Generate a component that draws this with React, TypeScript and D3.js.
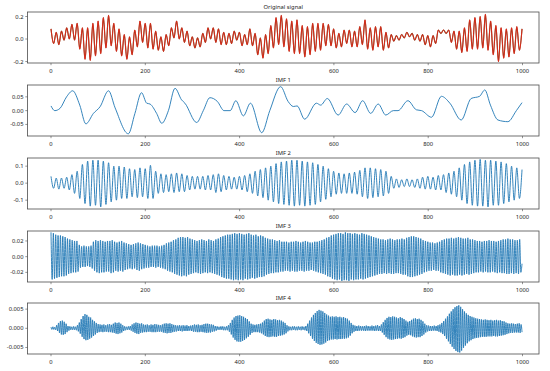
import React, { useEffect } from 'react'
import * as d3 from 'd3'

// x ticks shared by every panel
const xTicks = [0, 200, 400, 600, 800, 1000]
const sampleCount = 1000

// Original signal: alternating extrema (peak first), evenly spaced over 0..999
const originalExtrema = [
  0.09, -0.04, 0.06, -0.05, 0.07, -0.01, 0.1, 0.0, 0.13, -0.01,
  0.14, -0.09, 0.1, -0.18, 0.1, -0.19, 0.14, -0.15, 0.16, -0.13,
  0.19, -0.08, 0.21, -0.06, 0.14, -0.11, 0.09, -0.15, 0.04, -0.18,
  0.02, -0.14, 0.08, -0.07, 0.16, -0.03, 0.14, -0.08, 0.14, -0.09,
  0.07, -0.1, 0.02, -0.11, 0.04, -0.06, 0.1, 0.01, 0.16, 0.0,
  0.1, -0.03, 0.07, -0.06, 0.02, -0.08, 0.01, -0.07, 0.05, -0.03,
  0.1, 0.0, 0.1, -0.03, 0.09, -0.05, 0.06, -0.05, 0.05, -0.04,
  0.07, -0.01, 0.06, -0.06, 0.04, -0.05, 0.09, -0.06, 0.05, -0.14,
  0.01, -0.17, 0.04, -0.13, 0.12, -0.08, 0.19, -0.05, 0.21, -0.07,
  0.18, -0.11, 0.16, -0.13, 0.17, -0.13, 0.12, -0.16, 0.11, -0.14,
  0.14, -0.11, 0.14, -0.1, 0.14, -0.06, 0.13, -0.06, 0.09, -0.08,
  0.05, -0.07, 0.08, -0.04, 0.08, -0.07, 0.07, -0.07, 0.11, -0.05,
  0.17, -0.09, 0.1, -0.1, 0.11, -0.07, 0.11, -0.1, 0.06, -0.08,
  0.04, -0.02, 0.03, -0.01, 0.04, 0.01, 0.06, 0.02, 0.05, -0.01,
  0.04, -0.02, 0.04, -0.05, 0.03, -0.07, 0.03, -0.04, 0.08, 0.05,
  0.08, 0.05, 0.08, -0.03, 0.07, -0.09, 0.07, -0.12, 0.1, -0.11,
  0.17, -0.09, 0.19, -0.09, 0.2, -0.08, 0.22, -0.1, 0.16, -0.14,
  0.12, -0.2, 0.1, -0.17, 0.09, -0.16, 0.1, -0.13, 0.11, -0.1,
  0.09,
]

// IMF 1: slow component, read at its turning points
const imf1Index = [
  0, 8, 19, 33, 46, 61, 74, 90, 104, 122, 136, 164, 178, 192, 203, 210, 224, 235, 249, 263,
  277, 284, 309, 323, 337, 353, 367, 380, 392, 408, 423, 447, 464, 487, 503, 514, 522, 538, 563, 572,
  586, 609, 627, 645, 661, 678, 694, 710, 726, 736, 757, 775, 786, 807, 828, 846, 870, 891, 909, 920,
  932, 948, 969, 987, 999,
]
const imf1Values = [
  0.017, 0.0, 0.008, 0.05, 0.072, 0.02, -0.048, -0.01, 0.014, 0.072, 0.01, -0.084, -0.01, 0.065, 0.027, 0.024, -0.01, -0.046, 0.0, 0.081,
  0.039, 0.027, -0.043, 0.0, 0.047, 0.033, 0.0, 0.0, 0.036, -0.019, 0.027, -0.08, 0.0, 0.087, 0.033, 0.015, 0.017, -0.031, 0.027, 0.02,
  0.044, -0.016, 0.024, -0.007, 0.036, -0.01, 0.024, -0.016, 0.0, 0.0, 0.036, 0.003, 0.0, -0.024, 0.052, 0.027, -0.034, 0.044, 0.052, 0.075,
  0.02, -0.034, -0.04, 0.0, 0.029,
]

// IMF 2: alternating extrema (peak first), evenly spaced
const imf2Extrema = [
  0.04, -0.03, 0.03, -0.035, 0.03, -0.03, 0.035, -0.04, 0.05, -0.06,
  0.07, -0.09, 0.11, -0.12, 0.13, -0.135, 0.135, -0.13, 0.135, -0.14,
  0.13, -0.125, 0.12, -0.11, 0.1, -0.1, 0.1, -0.09, 0.095, -0.09,
  0.085, -0.08, 0.08, -0.085, 0.09, -0.08, 0.085, -0.09, 0.105, -0.09,
  0.07, -0.06, 0.055, -0.055, 0.05, -0.05, 0.055, -0.055, 0.06, -0.05,
  0.055, -0.05, 0.045, -0.04, 0.04, -0.035, 0.04, -0.035, 0.04, -0.04,
  0.045, -0.04, 0.05, -0.055, 0.055, -0.05, 0.045, -0.04, 0.04, -0.035,
  0.035, -0.035, 0.04, -0.04, 0.045, -0.05, 0.055, -0.06, 0.07, -0.075,
  0.08, -0.085, 0.09, -0.1, 0.1, -0.11, 0.115, -0.12, 0.125, -0.125,
  0.13, -0.13, 0.135, -0.135, 0.135, -0.13, 0.13, -0.135, 0.125, -0.13,
  0.12, -0.125, 0.11, -0.11, 0.1, -0.095, 0.085, -0.08, 0.07, -0.065,
  0.06, -0.06, 0.055, -0.06, 0.06, -0.06, 0.065, -0.065, 0.075, -0.08,
  0.09, -0.09, 0.09, -0.085, 0.085, -0.08, 0.08, -0.075, 0.07, -0.06,
  0.04, -0.03, 0.025, -0.025, 0.02, -0.02, 0.025, -0.02, 0.02, -0.025,
  0.025, -0.03, 0.035, -0.035, 0.04, -0.035, 0.035, -0.04, 0.045, -0.04,
  0.05, -0.055, 0.06, -0.065, 0.07, -0.08, 0.09, -0.1, 0.11, -0.12,
  0.125, -0.13, 0.135, -0.135, 0.14, -0.135, 0.135, -0.14, 0.135, -0.13,
  0.13, -0.13, 0.125, -0.12, 0.115, -0.11, 0.1, -0.1, 0.09, -0.09,
  0.08,
]

// IMF 3 (units of 1e-3): one peak and one trough per oscillation
const imf3Peaks = [
  31, 30, 28, 27, 27, 26, 25, 23, 22, 21, 20, 20, 15, 13, 14, 13, 13, 14, 19, 21,
  20, 21, 20, 19, 20, 20, 21, 19, 18, 19, 20, 18, 17, 16, 15, 16, 17, 18, 17, 16,
  15, 14, 13, 14, 14, 14, 13, 14, 15, 17, 18, 19, 21, 22, 24, 25, 25, 24, 25, 23,
  22, 21, 20, 21, 22, 21, 20, 22, 21, 20, 22, 23, 25, 26, 27, 28, 28, 29, 30, 29,
  30, 29, 28, 29, 30, 28, 27, 28, 26, 27, 26, 24, 23, 22, 22, 21, 20, 21, 19, 19,
  19, 18, 19, 19, 20, 19, 18, 19, 20, 19, 18, 18, 19, 19, 20, 21, 22, 24, 25, 27,
  28, 29, 30, 30, 29, 31, 30, 30, 29, 30, 29, 28, 30, 29, 28, 27, 26, 25, 24, 23,
  22, 22, 21, 22, 23, 22, 21, 22, 22, 23, 22, 24, 25, 26, 26, 25, 24, 23, 21, 20,
  19, 18, 18, 17, 18, 19, 21, 22, 23, 23, 24, 23, 24, 25, 24, 23, 23, 24, 22, 22,
  21, 20, 20, 19, 20, 20, 21, 20, 20, 19, 20, 21, 22, 22, 23, 22, 22, 21, 21, 22,
  -9,
]
const imf3Troughs = [
  -29, -28, -27, -26, -25, -25, -24, -22, -21, -20, -20, -19, -14, -13, -13, -12, -13, -15, -18, -20,
  -21, -20, -20, -19, -19, -21, -20, -18, -19, -18, -19, -17, -16, -15, -16, -15, -17, -18, -16, -15,
  -14, -14, -13, -13, -14, -13, -14, -15, -16, -18, -19, -20, -22, -23, -24, -25, -24, -25, -23, -22,
  -21, -20, -21, -22, -21, -20, -21, -20, -21, -22, -23, -24, -26, -27, -28, -28, -29, -30, -29, -30,
  -29, -30, -28, -29, -28, -27, -28, -27, -26, -26, -25, -23, -22, -21, -21, -20, -20, -19, -19, -18,
  -18, -19, -18, -19, -19, -18, -18, -19, -18, -18, -17, -18, -19, -20, -21, -22, -23, -25, -26, -28,
  -29, -30, -29, -31, -30, -30, -31, -29, -30, -29, -29, -28, -29, -28, -27, -26, -25, -24, -23, -22,
  -22, -21, -22, -21, -22, -22, -21, -21, -22, -23, -23, -25, -26, -26, -25, -24, -23, -22, -20, -19,
  -18, -18, -17, -18, -18, -20, -21, -22, -23, -24, -23, -24, -24, -23, -24, -23, -22, -23, -22, -21,
  -20, -20, -19, -20, -19, -20, -20, -19, -20, -21, -20, -21, -21, -22, -22, -21, -22, -21, -22, -20,
]

// IMF 4 (units of 1e-4): one peak and one trough per oscillation
const imf4Peaks = [
  3, 4, 3, 8, 14, 19, 20, 17, 12, 6, 5, 4, 5, 4, 8, 15, 24, 32, 37, 35, 30, 28, 22, 18, 14,
  11, 10, 9, 10, 8, 10, 11, 9, 12, 15, 14, 15, 12, 8, 5, 4, 5, 6, 10, 13, 15, 14, 12, 13, 10,
  9, 10, 8, 10, 9, 11, 10, 9, 8, 10, 12, 13, 12, 13, 11, 9, 8, 7, 8, 7, 8, 7, 8, 6, 7,
  8, 10, 9, 10, 8, 9, 11, 12, 12, 11, 10, 9, 6, 5, 4, 5, 5, 4, 5, 8, 14, 22, 28, 32, 33,
  34, 32, 30, 27, 24, 18, 12, 10, 9, 10, 11, 12, 15, 20, 24, 25, 23, 22, 24, 23, 21, 22, 20, 17, 14,
  8, 5, 4, 5, 5, 4, 5, 4, 5, 4, 6, 12, 20, 28, 35, 40, 45, 48, 46, 44, 40, 36, 33, 30, 31,
  30, 31, 29, 30, 28, 29, 27, 25, 20, 14, 9, 7, 6, 7, 6, 5, 6, 7, 6, 5, 7, 6, 7, 8, 6,
  10, 16, 22, 27, 30, 29, 31, 30, 28, 26, 29, 27, 24, 20, 17, 19, 22, 25, 26, 24, 25, 22, 18, 12, 8,
  7, 6, 6, 7, 6, 8, 10, 14, 19, 25, 31, 38, 44, 50, 55, 58, 60, 56, 50, 44, 39, 35, 32, 30, 28,
  26, 25, 24, 23, 22, 23, 22, 21, 22, 20, 21, 22, 20, 21, 19, 18, 15, 13, 12, 13, 12, 11, 12, 13, 10,
]
const imf4Troughs = [
  -3, -3, -4, -7, -12, -16, -17, -15, -10, -6, -4, -4, -4, -5, -8, -14, -22, -28, -31, -30, -27, -24, -20, -16, -12,
  -10, -9, -10, -9, -9, -10, -10, -11, -12, -14, -15, -13, -11, -7, -5, -4, -4, -6, -9, -12, -14, -15, -12, -11, -10,
  -10, -9, -9, -10, -10, -10, -9, -9, -9, -11, -12, -13, -12, -12, -10, -9, -8, -7, -7, -8, -7, -7, -7, -6, -7,
  -9, -9, -10, -10, -9, -10, -11, -12, -11, -11, -9, -8, -6, -4, -4, -4, -5, -5, -5, -9, -16, -24, -30, -34, -35,
  -35, -33, -30, -26, -22, -17, -12, -10, -10, -10, -11, -13, -16, -20, -22, -23, -22, -21, -22, -22, -20, -19, -18, -16, -13,
  -8, -5, -5, -4, -5, -5, -4, -5, -4, -5, -7, -13, -20, -27, -33, -38, -41, -43, -42, -40, -37, -33, -31, -29, -29,
  -28, -29, -28, -28, -27, -27, -26, -24, -19, -13, -9, -7, -7, -6, -6, -6, -7, -6, -6, -6, -6, -7, -6, -7, -7,
  -11, -17, -23, -27, -29, -30, -29, -28, -27, -26, -27, -25, -23, -19, -17, -18, -21, -23, -24, -23, -23, -20, -16, -11, -8,
  -7, -7, -6, -6, -7, -9, -11, -15, -20, -27, -34, -41, -48, -54, -59, -62, -63, -58, -51, -45, -39, -34, -31, -28, -26,
  -25, -24, -23, -22, -22, -22, -21, -21, -21, -20, -21, -21, -20, -19, -18, -17, -15, -13, -12, -12, -11, -11, -11, -12, -10,
]

type Pt = { i: number; v: number }

// spread a list of extrema evenly over the sample range
const spread = (vals: number[]): Pt[] =>
  vals.map((v, n) => ({ i: (n * (sampleCount - 1)) / (vals.length - 1), v }))

const interleave = (peaks: number[], troughs: number[], unit: number): number[] => {
  const out: number[] = []
  peaks.forEach((p, j) => {
    out.push(p * unit)
    if (j < troughs.length) out.push(troughs[j] * unit)
  })
  return out
}

interface Panel {
  title: string
  points: Pt[]
  yDomain: [number, number]
  yTicks: number[]
  fmt: string
  top: number
  red?: boolean
}

const W = 550
const H = 371
const left = 27.5
const right = 539
const panelH = 51

const panels: Panel[] = [
  { title: 'Original signal', points: spread(originalExtrema), yDomain: [-0.213, 0.24], yTicks: [-0.2, 0, 0.2], fmt: '.1f', top: 12, red: true },
  { title: 'IMF 1', points: imf1Index.map((i, k) => ({ i, v: imf1Values[k] })), yDomain: [-0.092, 0.093], yTicks: [-0.05, 0, 0.05], fmt: '.2f', top: 85 },
  { title: 'IMF 2', points: spread(imf2Extrema), yDomain: [-0.152, 0.148], yTicks: [-0.1, 0, 0.1], fmt: '.1f', top: 158 },
  { title: 'IMF 3', points: spread(interleave(imf3Peaks, imf3Troughs, 1e-3)), yDomain: [-0.0323, 0.0327], yTicks: [-0.02, 0, 0.02], fmt: '.2f', top: 231 },
  { title: 'IMF 4', points: spread(interleave(imf4Peaks, imf4Troughs, 1e-4)), yDomain: [-0.0067, 0.0066], yTicks: [-0.005, 0, 0.005], fmt: '.3f', top: 303 },
]

const font = '"Noto Sans", "Open Sans", sans-serif'
const axisColor = '#4d4d4d'

const PanelView = ({ p }: { p: Panel }) => {
  const x = d3.scaleLinear().domain([0, 1000]).range([51, 522.5])
  const y = d3.scaleLinear().domain(p.yDomain).range([p.top + panelH, p.top])
  const line = d3
    .line<Pt>()
    .x((d) => x(d.i))
    .y((d) => y(d.v))
    .curve(d3.curveMonotoneX)
  const path = line(p.points) || ''
  const fmt = d3.format(p.fmt)
  const bottom = p.top + panelH

  return (
    <g>
      <clipPath id={`clip-${p.top}`}>
        <rect x={left} y={p.top} width={right - left} height={panelH} />
      </clipPath>
      <g clipPath={`url(#clip-${p.top})`}>
        {p.red ? (
          <>
            <path d={path} fill="none" stroke="#6b4a22" strokeWidth={1.15} />
            <path d={path} fill="none" stroke="#ee2418" strokeWidth={0.85} />
          </>
        ) : (
          <path d={path} fill="none" stroke="#1f77b4" strokeWidth={0.9} strokeLinejoin="round" />
        )}
      </g>
      <rect x={left} y={p.top} width={right - left} height={panelH} fill="none" stroke={axisColor} strokeWidth={0.8} />
      <text x={(left + right) / 2} y={p.top - 3} textAnchor="middle" fontSize={5.8} fontFamily={font} fill="#1a1a1a">
        {p.title}
      </text>
      {xTicks.map((t) => (
        <g key={t}>
          <line x1={x(t)} x2={x(t)} y1={bottom} y2={bottom + 2.2} stroke={axisColor} strokeWidth={0.6} />
          <text x={x(t)} y={bottom + 10} textAnchor="middle" fontSize={5.8} fontFamily={font} fill="#1a1a1a">
            {t}
          </text>
        </g>
      ))}
      {p.yTicks.map((t) => (
        <g key={t}>
          <line x1={left - 2.2} x2={left} y1={y(t)} y2={y(t)} stroke={axisColor} strokeWidth={0.6} />
          <text x={left - 4} y={y(t) + 2} textAnchor="end" fontSize={5.8} fontFamily={font} fill="#1a1a1a">
            {fmt(t).replace('−', '-')}
          </text>
        </g>
      ))}
    </g>
  )
}

export default function App() {
  useEffect(() => {
    document.body.style.margin = '0'
  }, [])
  return (
    <svg width={W} height={H} style={{ display: 'block', background: '#fff' }}>
      {panels.map((p) => (
        <PanelView key={p.title} p={p} />
      ))}
    </svg>
  )
}
